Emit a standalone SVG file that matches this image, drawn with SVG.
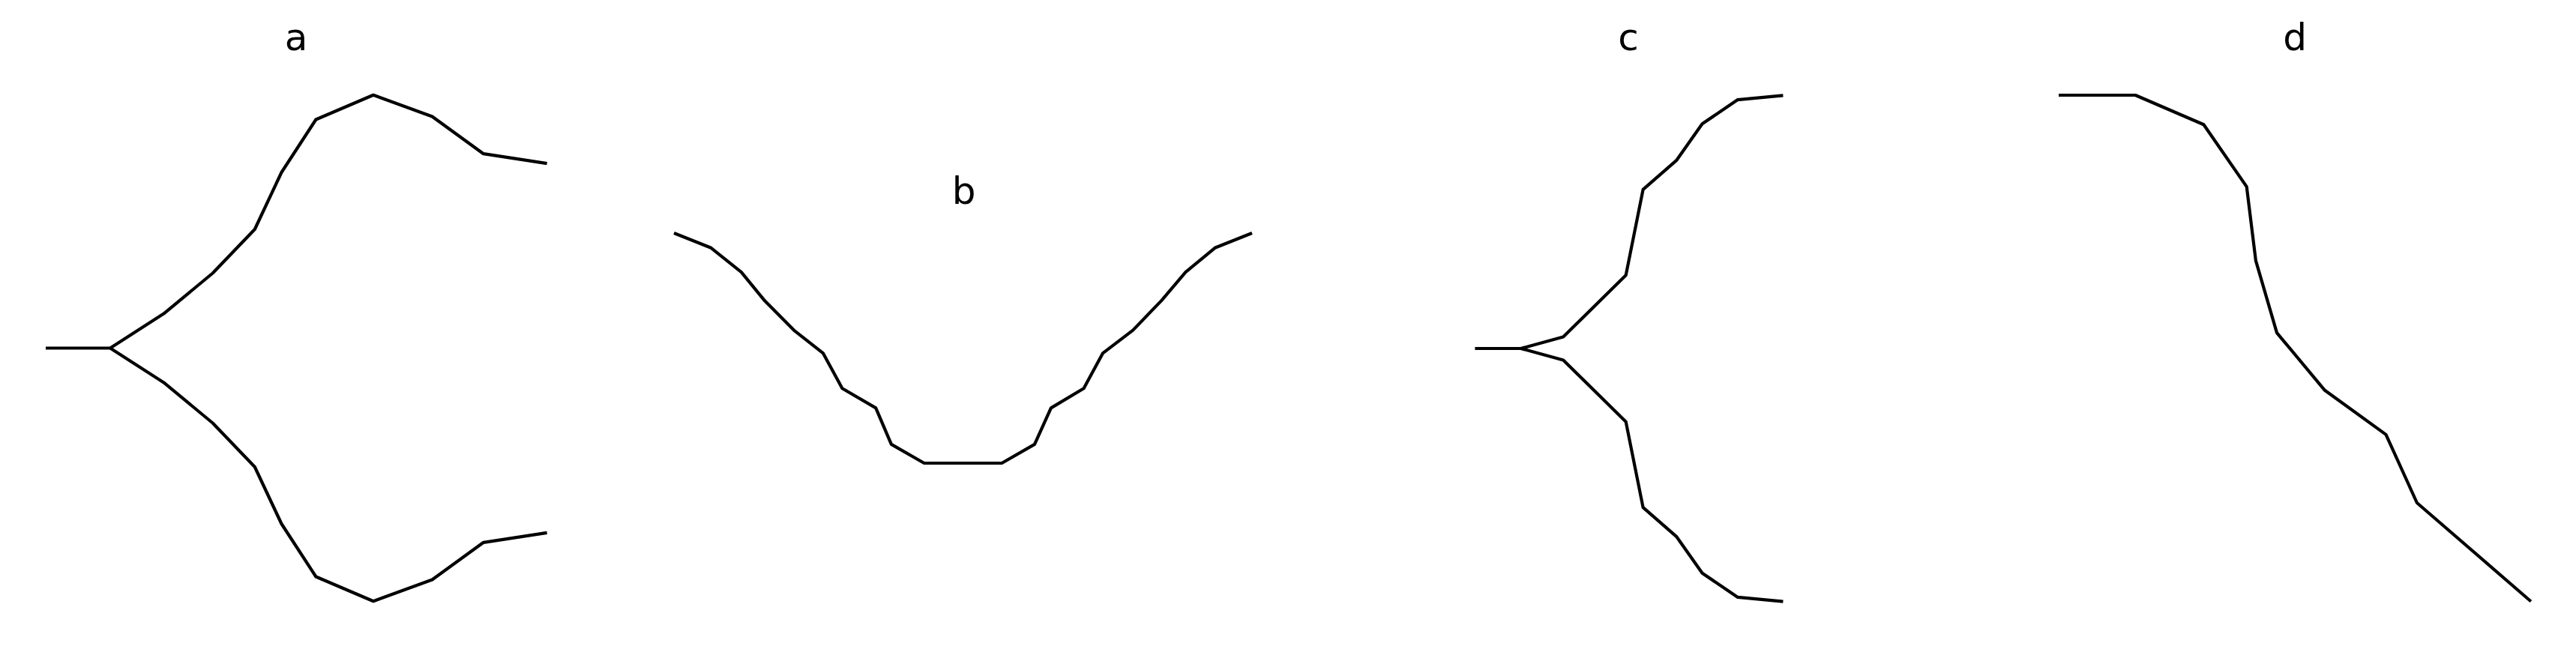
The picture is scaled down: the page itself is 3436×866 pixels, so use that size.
<svg xmlns="http://www.w3.org/2000/svg" width="3436" height="866" viewBox="0 0 3436 866">
<style>
.curve{fill:none;stroke:#000;stroke-width:4.2;stroke-linejoin:round;stroke-linecap:butt}
.title{font-family:"DejaVu Sans",sans-serif;font-size:50px;fill:#000;text-anchor:middle}
</style>
<rect width="3436" height="866" fill="#fff"/>
<g id="panel-a">
<text class="title" x="395" y="67">a</text>
<polyline class="curve" points="61,464.5 147,464.5 218.4,418.6 283.7,364.5 339.8,306 375.5,230 421.4,159.5 498,126.8 576.5,155.5 644.9,205.2 729.6,218.2"/>
<polyline class="curve" points="147,464.5 218.4,510.4 283.7,564.5 339.8,623 375.5,699 421.4,769.5 498,802.2 576.5,773.5 644.9,723.8 729.6,710.8"/>
</g>
<g id="panel-b">
<text class="title" x="1285.5" y="272">b</text>
<polyline class="curve" points="899,311 948.5,330.8 988.8,363.1 1019.8,401.1 1058.9,440.6 1098,471.4 1123.4,518.2 1168.2,544.4 1188.9,592.9 1232.7,618 1336.3,618 1380,592.9 1401.9,544.4 1445.6,518.2 1470.9,471.4 1511.2,440.6 1549.2,401.1 1581.4,363.1 1620.5,330.8 1670,311"/>
</g>
<g id="panel-c">
<text class="title" x="2172" y="67">c</text>
<polyline class="curve" points="1967.4,465 2028.6,465 2085.2,449.5 2168.7,367.2 2191.6,252.9 2236,214.2 2270.5,165.3 2317.9,133.1 2378.4,127.3"/>
<polyline class="curve" points="2028.6,465 2085.2,480.5 2168.7,562.8 2191.6,677.1 2236,715.8 2270.5,764.7 2317.9,796.9 2378.4,802.7"/>
</g>
<g id="panel-d">
<text class="title" x="3061" y="67">d</text>
<polyline class="curve" points="2746,127 2848.3,127 2939.4,166.2 2996.7,249.1 3008.9,347.9 3037,444.1 3100.9,520.8 3182.5,579.9 3223.9,671 3375.9,802.5"/>
</g>
</svg>
